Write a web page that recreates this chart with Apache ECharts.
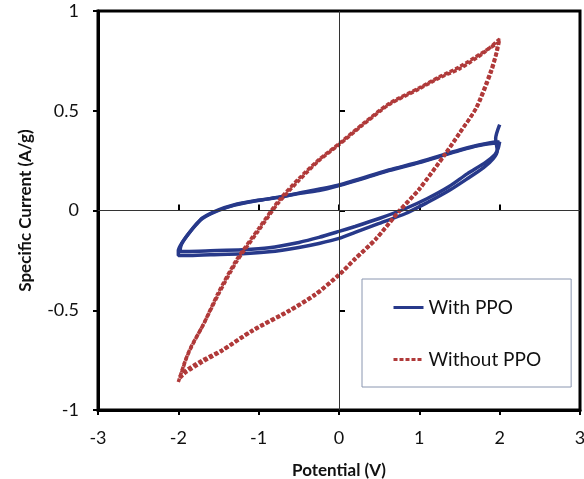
<!DOCTYPE html>
<html>
<head>
<meta charset="utf-8">
<script src="https://cdn.jsdelivr.net/npm/echarts@6/dist/echarts.min.js"></script>
<style>
  html, body { margin: 0; padding: 0; background: #fff; }
  #chart { width: 584px; height: 479px; }
</style>
</head>
<body>
<div id="chart"></div>
<script>
// tick values
const X_TICKS = [-3, -2, -1, 0, 1, 2, 3]
const Y_TICKS = [-1, -0.5, 0, 0.5, 1]

// [potential (V), specific current (A/g)]
const withPpoCycle1 = [
  [2.0, 0.43], [1.95, 0.36], [1.97, 0.3], [1.92, 0.26], [1.8, 0.215], [1.6, 0.16],
  [1.37, 0.1], [1.1, 0.04], [0.83, -0.015], [0.5, -0.065], [0.2, -0.11], [0, -0.14],
  [-0.25, -0.165], [-0.5, -0.185], [-0.87, -0.207], [-1.2, -0.217], [-1.6, -0.222],
  [-1.9, -0.226], [-2.0, -0.226], [-2.0, -0.2], [-1.96, -0.165], [-1.87, -0.115],
  [-1.78, -0.07], [-1.7, -0.037], [-1.5, 0.003], [-1.3, 0.029], [-1.1, 0.045],
  [-0.9, 0.057], [-0.75, 0.066], [-0.5, 0.085], [-0.25, 0.1], [0, 0.125], [0.3, 0.16],
  [0.62, 0.2], [1.0, 0.24], [1.25, 0.27], [1.5, 0.3], [1.74, 0.325], [1.95, 0.34],
  [2.0, 0.345]
]
const withPpoCycle2 = [
  [2.0, 0.345], [1.98, 0.31], [1.94, 0.28], [1.82, 0.24], [1.6, 0.185], [1.37, 0.12],
  [1.1, 0.06], [0.83, 0.01], [0.5, -0.04], [0.2, -0.08], [0, -0.105], [-0.25, -0.135],
  [-0.5, -0.16], [-0.87, -0.187], [-1.2, -0.197], [-1.6, -0.202], [-1.9, -0.205],
  [-1.98, -0.205], [-1.97, -0.18], [-1.94, -0.155], [-1.87, -0.115], [-1.78, -0.072],
  [-1.7, -0.04], [-1.5, 0.0], [-1.3, 0.027], [-1.1, 0.044], [-0.9, 0.057],
  [-0.75, 0.067], [-0.5, 0.087], [0, 0.128], [0.62, 0.203], [1.0, 0.243], [1.5, 0.303],
  [1.74, 0.328], [1.96, 0.345]
]
const withoutPpoCycle1 = [
  [-2.0, -0.86], [-1.92, -0.76], [-1.85, -0.69], [-1.7, -0.58], [-1.5, -0.42],
  [-1.28, -0.26], [-1.0, -0.1], [-0.75, 0.04], [-0.5, 0.15], [-0.25, 0.25], [0, 0.33],
  [0.3, 0.43], [0.62, 0.53], [1.0, 0.61], [1.25, 0.665], [1.5, 0.71], [1.8, 0.79],
  [2.0, 0.86], [1.97, 0.8], [1.9, 0.7], [1.72, 0.52], [1.5, 0.39], [1.33, 0.29],
  [1.0, 0.11], [0.75, 0.0], [0.46, -0.14], [0.2, -0.24], [0, -0.32], [-0.3, -0.42],
  [-0.62, -0.5], [-1.08, -0.6], [-1.46, -0.7], [-1.7, -0.75], [-1.9, -0.8], [-2.0, -0.84]
]
const withoutPpoCycle2 = [
  [-1.98, -0.84], [-1.9, -0.74], [-1.82, -0.67], [-1.68, -0.565], [-1.5, -0.41],
  [-1.28, -0.25], [-1.0, -0.09], [-0.75, 0.05], [-0.5, 0.16], [-0.25, 0.255], [0, 0.335],
  [0.3, 0.435], [0.62, 0.535], [1.0, 0.615], [1.25, 0.67], [1.5, 0.72], [1.8, 0.795],
  [1.98, 0.84], [1.95, 0.78], [1.88, 0.69], [1.7, 0.51], [1.5, 0.385], [1.33, 0.285],
  [1.0, 0.105], [0.75, -0.005], [0.46, -0.145], [0.2, -0.245], [0, -0.325],
  [-0.3, -0.425], [-0.62, -0.505], [-1.08, -0.605], [-1.46, -0.705], [-1.7, -0.76],
  [-1.9, -0.81], [-1.98, -0.84]
]

const BLUE = '#27398a'
const RED = '#b03a3a'
const FONT = 'Lato, sans-serif'

const chart = echarts.init(document.getElementById('chart'))

const baseAxis = (min, max, step) => ({
  type: 'value',
  min, max, interval: step,
  axisLine: { onZero: false, lineStyle: { color: '#000', width: 3 } },
  axisTick: { length: 5, lineStyle: { color: '#000', width: 2 } },
  splitLine: { show: false }
})

const blueLine = (data) => ({
  name: 'With PPO', type: 'line', data, showSymbol: false, symbol: 'none',
  smooth: 0.25, lineStyle: { color: BLUE, width: 3.5 }, itemStyle: { color: BLUE }, z: 3
})
const redLine = (data) => ({
  name: 'Without PPO', type: 'line', data, showSymbol: false, symbol: 'none',
  smooth: 0.25, lineStyle: { color: RED, width: 3.5, type: [4, 2] }, itemStyle: { color: RED }, z: 4
})

chart.setOption({
  animation: false,
  grid: {
    left: 98, right: 4, top: 11, bottom: 69, outerBoundsMode: 'none',
    show: true, borderColor: '#000', borderWidth: 3
  },
  xAxis: [
    Object.assign(baseAxis(X_TICKS[0], X_TICKS[X_TICKS.length - 1], 1), {
      name: 'Potential (V)', nameLocation: 'middle', nameGap: 52,
      nameTextStyle: { fontFamily: FONT, fontSize: 17, fontWeight: 'bold', color: '#111' },
      axisLabel: { margin: 19, fontFamily: FONT, fontSize: 18, color: '#111' }
    }),
    Object.assign(baseAxis(X_TICKS[0], X_TICKS[X_TICKS.length - 1], 1), {
      position: 'bottom', axisLine: { show: false }, axisLabel: { show: false },
      axisTick: { inside: true, length: 6, lineStyle: { color: '#000', width: 2 } }
    })
  ],
  yAxis: [
    Object.assign(baseAxis(Y_TICKS[0], Y_TICKS[Y_TICKS.length - 1], 0.5), {
      name: 'Specific Current (A/g)', nameLocation: 'middle', nameGap: 64,
      nameTextStyle: { fontFamily: FONT, fontSize: 17, fontWeight: 'bold', color: '#111' },
      axisLabel: { margin: 19, fontFamily: FONT, fontSize: 18, color: '#111' }
    }),
    Object.assign(baseAxis(Y_TICKS[0], Y_TICKS[Y_TICKS.length - 1], 0.5), {
      position: 'left', axisLine: { show: false }, axisLabel: { show: false },
      axisTick: { inside: true, length: 6, lineStyle: { color: '#000', width: 2 } }
    })
  ],
  legend: {
    data: ['With PPO', 'Without PPO'],
    orient: 'vertical', left: 362, top: 279,
    padding: [19, 30, 18, 30], itemGap: 33,
    itemWidth: 30, itemHeight: 16, itemTextGap: 2,
    borderColor: '#8a96b0', borderWidth: 1, backgroundColor: '#fff',
    itemStyle: { color: 'rgba(0,0,0,0)', borderColor: 'rgba(0,0,0,0)', borderWidth: 0 },
    lineStyle: { width: 3 },
    textStyle: { fontFamily: FONT, fontSize: 19, color: '#111' }
  },
  series: [
    {
      type: 'line', data: [], silent: true, z: 1,
      markLine: {
        silent: true, symbol: 'none', label: { show: false },
        lineStyle: { color: '#333', width: 1, type: 'solid' },
        data: [{ xAxis: 0 }, { yAxis: 0 }]
      }
    },
    blueLine(withPpoCycle1),
    blueLine(withPpoCycle2),
    redLine(withoutPpoCycle1),
    redLine(withoutPpoCycle2)
  ]
})
</script>
</body>
</html>
